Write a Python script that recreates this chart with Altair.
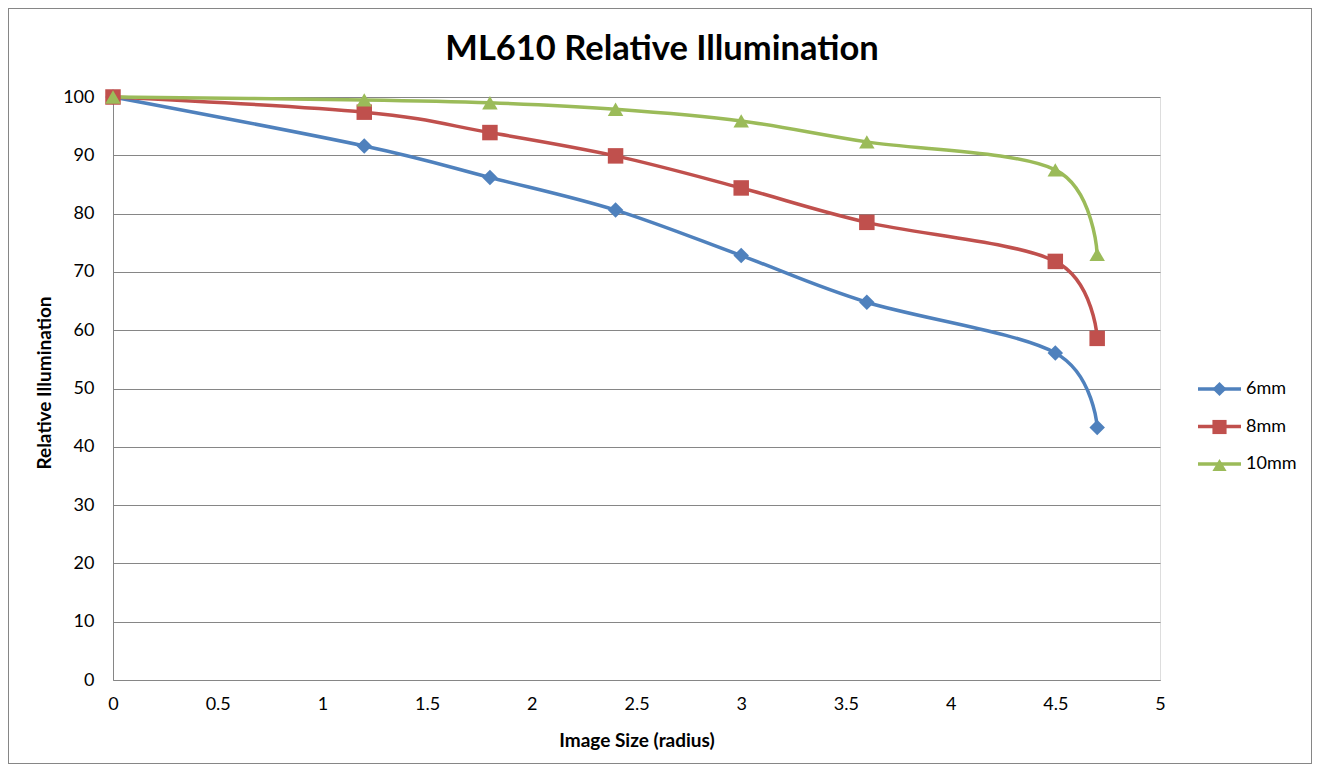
import altair as alt
import pandas as pd

x_vals = [0, 1.2, 1.8, 2.4, 3, 3.6, 4.5, 4.7]
s6 = [100, 91.6, 86.2, 80.6, 72.8, 64.8, 56.1, 43.3]
s8 = [100, 97.4, 93.9, 89.9, 84.4, 78.5, 71.8, 58.6]
s10 = [100, 99.5, 99.0, 97.9, 95.9, 92.3, 87.5, 73.0]
series = ["6mm", "8mm", "10mm"]
colors = ["#4F81BD", "#C0504D", "#9BBB59"]
shapes = ["diamond", "square", "triangle-up"]
title_text = "ML610 Relative Illumination"

rows = []
for name, vals in zip(series, [s6, s8, s10]):
    for xv, yv in zip(x_vals, vals):
        rows.append({"x": xv, "y": yv, "s": name})
df = pd.DataFrame(rows)
leg_df = pd.DataFrame({"s": series})
title_df = pd.DataFrame({"t": [title_text]})
marker_keys = [s + " " for s in series]

W, H = 1047, 583
PL, PT, PR, PB = 105, 89, 152, 84
FONT = "Lato"
GRID = "#868686"

xenc = alt.X("x:Q", scale=alt.Scale(domain=[0, 5], nice=False),
             axis=alt.Axis(values=[0, 0.5, 1, 1.5, 2, 2.5, 3, 3.5, 4, 4.5, 5],
                           format="~g", grid=False, ticks=False, domain=True,
                           domainColor=GRID, labelFont=FONT, labelFontSize=18,
                           labelColor="#000", labelPadding=15,
                           title="Image Size (radius)", titleFont=FONT,
                           titleFontSize=19, titleFontWeight="bold", titleColor="#000",
                           titleX=523.5, titleY=60, titleBaseline="middle",
                           titleAlign="center", labelFlush=False))
yenc = alt.Y("y:Q", scale=alt.Scale(domain=[0, 100], nice=False),
             axis=alt.Axis(values=list(range(0, 101, 10)), grid=True, gridColor=GRID,
                           gridWidth=1, ticks=False, domain=True, domainColor=GRID,
                           labelFont=FONT, labelFontSize=18, labelColor="#000",
                           labelPadding=19,
                           title="Relative Illumination", titleFont=FONT,
                           titleFontSize=19, titleFontWeight="bold", titleColor="#000",
                           titleX=-69, titleY=285.5, titleAngle=270,
                           titleBaseline="middle", titleAlign="center"))

color_scale = alt.Scale(domain=series, range=colors)

# line part of each legend entry (with the labels)
line_legend = alt.Legend(title=None, orient="none", legendX=1083, legendY=268.5,
                         symbolType="stroke", symbolSize=1849, symbolStrokeWidth=3.5,
                         symbolOpacity=1,
                         labelFont=FONT, labelFontSize=18, labelColor="#000",
                         labelOffset=3, rowPadding=4.5)

lines = alt.Chart(df).mark_line(interpolate="cardinal", strokeWidth=3.5).encode(
    x=xenc, y=yenc,
    color=alt.Color("s:N", scale=color_scale, sort=series, legend=line_legend),
    detail="s:N",
)

point_layers = []
for name, shp, col in zip(series, shapes, colors):
    point_layers.append(
        alt.Chart(df).transform_filter(alt.datum.s == name)
        .mark_point(filled=True, size=240, opacity=1, shape=shp, color=col)
        .encode(x="x:Q", y="y:Q")
    )

# marker part of each legend entry, drawn over the line symbols (labels hidden)
marker_legend = alt.Legend(title=None, orient="none", legendX=1097.5, legendY=283,
                           symbolSize=200, symbolStrokeWidth=0, symbolOpacity=1,
                           labelFont=FONT, labelFontSize=18, labelColor="#000",
                           labelOpacity=0, labelOffset=3, rowPadding=20)

legend_layer = alt.Chart(leg_df).transform_calculate(
    sl="datum.s + ' '"
).mark_point(filled=True, size=200, opacity=1, clip=True).encode(
    x=alt.value(-500), y=alt.value(-500),
    fill=alt.Fill("sl:N", scale=alt.Scale(domain=marker_keys, range=colors),
                  sort=marker_keys, legend=marker_legend),
    shape=alt.Shape("sl:N", scale=alt.Scale(domain=marker_keys, range=shapes),
                    sort=marker_keys, legend=marker_legend),
)

border = alt.Chart(leg_df).mark_rect(fill=None, stroke="#868686", strokeWidth=1).encode(
    x=alt.value(-PL + 0.5), x2=alt.value(W + PR - 0.5),
    y=alt.value(-PT + 0.5), y2=alt.value(H + PB - 0.5),
)

title = alt.Chart(title_df).mark_text(font=FONT, fontSize=34.5, fontWeight="bold",
                                      color="#000", align="center", baseline="middle").encode(
    text="t:N", x=alt.value(549), y=alt.value(-47),
)

chart = alt.layer(border, title, lines, *point_layers, legend_layer).properties(
    width=W, height=H,
    autosize=alt.AutoSizeParams(type="none"),
    padding={"left": PL, "top": PT, "right": PR, "bottom": PB},
).configure_view(stroke=None).configure(background="white")

chart.save("out.html", embed_options={"renderer": "svg", "actions": False})
